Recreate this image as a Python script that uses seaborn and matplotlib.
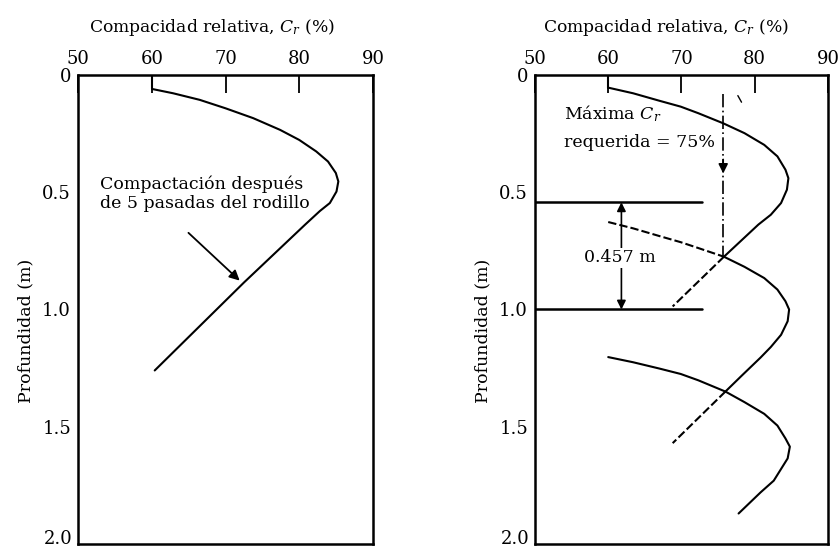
import numpy as np
import matplotlib
matplotlib.use("Agg")
import matplotlib.pyplot as plt
import pandas as pd
import seaborn as sns

## Relative compaction (Cr, %) against depth (m).

## Left panel: compaction after 5 roller passes
left_cr = [60.1, 62.9, 66.5, 70.0, 73.75, 77.4, 80.0, 82.3, 83.9, 84.96, 85.3,
           85.05, 84.15, 82.8, 80.8, 72.5, 60.4]
left_depth = [0.06, 0.078, 0.106, 0.142, 0.184, 0.234, 0.277, 0.326, 0.369, 0.418, 0.454,
              0.497, 0.546, 0.58, 0.638, 0.885, 1.26]

## Right panel: three successive lifts, solid and dashed parts
lift1_cr = [60.0, 63.4, 67.0, 69.9, 72.3, 75.7, 78.6, 81.3, 83.1, 84.2, 84.6,
            84.4, 83.6, 82.2, 80.5, 75.8]
lift1_depth = [0.054, 0.078, 0.11, 0.135, 0.163, 0.206, 0.248, 0.298, 0.347, 0.404, 0.44,
               0.489, 0.546, 0.596, 0.638, 0.775]
lift1_dash_cr = [75.8, 68.8]
lift1_dash_depth = [0.775, 0.987]

lift2_dash_cr = [60.0, 63.4, 67.0, 69.9, 72.3, 75.8]
lift2_dash_depth = [0.627, 0.654, 0.687, 0.713, 0.738, 0.775]
lift2_cr = [75.8, 78.6, 81.3, 83.1, 84.2, 84.7, 84.5, 83.6, 82.2, 80.8, 78.3, 76.0]
lift2_depth = [0.775, 0.818, 0.866, 0.915, 0.965, 1.0, 1.05, 1.108, 1.16, 1.205, 1.28, 1.35]
lift2_end_cr = [76.0, 68.8]
lift2_end_depth = [1.35, 1.57]

lift3_cr = [60.0, 63.4, 67.0, 69.9, 72.3, 76.0, 78.6, 81.3, 83.1, 84.2, 84.8,
            84.5, 83.6, 82.6, 80.8, 77.8]
lift3_depth = [1.203, 1.225, 1.252, 1.275, 1.302, 1.35, 1.395, 1.445, 1.495, 1.55, 1.585,
               1.635, 1.68, 1.73, 1.78, 1.87]

## Annotations
required_cr = 75.7
lift_top = 0.543
lift_bottom = 1.0
lift_thick = "0.457 m"

x_ticks = [50, 60, 70, 80, 90]
y_ticks = [0, 0.5, 1.0, 1.5, 2.0]
y_tick_labels = ["0", "0.5", "1.0", "1.5", ""]

sns.set_style("white")
plt.rcParams['font.family'] = ['DejaVu Serif']
plt.rcParams['mathtext.fontset'] = 'dejavuserif'
# plain black text like the printed figure
for k in ['text.color', 'axes.labelcolor', 'xtick.color', 'ytick.color']:
    plt.rcParams[k] = 'black'

fig = plt.figure(figsize=(8.38, 5.53), dpi=100)
ax1 = fig.add_axes([0.0931, 0.0163, 0.352, 0.8481])
ax2 = fig.add_axes([0.6384, 0.0163, 0.3496, 0.8481])

lw = 1.5
txt = 12.5


def line(ax, xs, ys, style='-'):
    df = pd.DataFrame({"cr": xs, "depth": ys})
    sns.lineplot(data=df, x="cr", y="depth", sort=False, estimator=None,
                 ax=ax, color='black', linewidth=lw, linestyle=style)


def setup(ax, xlab_x):
    ax.set_xlim(50, 90)
    ax.set_ylim(2.0, 0)
    ax.xaxis.tick_top()
    ax.xaxis.set_label_position('top')
    ax.set_xticks(x_ticks)
    ax.set_yticks(y_ticks)
    ax.set_yticklabels(y_tick_labels)
    ax.tick_params(axis='both', direction='in', length=13, width=1.3,
                   labelsize=13, pad=5, color='black', labelcolor='black')
    ax.set_xlabel("Compacidad relativa, $C_r$ (%)", fontsize=12.3, va='center')
    ax.xaxis.set_label_coords(xlab_x, 1.102)
    ax.set_ylabel("Profundidad (m)", fontsize=txt)
    ax.yaxis.set_label_coords(-0.148, 0.454)
    # bottom label sits on the edge, keep it inside the picture
    ax.annotate("2.0", xy=(0, 0), xycoords='axes fraction', xytext=(-3.8, -3),
                textcoords='offset points', ha='right', va='bottom', fontsize=13)
    for s in ax.spines.values():
        s.set_linewidth(1.8)
        s.set_color('black')


## Left panel
line(ax1, left_cr, left_depth)
ax1.plot([60, 60], [0, 0.06], color='black', linewidth=lw)
setup(ax1, 0.453)
ax1.text(53.0, 0.505, "Compactación después\nde 5 pasadas del rodillo",
         fontsize=txt, va='center', ha='left', linespacing=1.15)
ax1.annotate("", xy=(72.2, 0.885), xytext=(64.7, 0.665),
             arrowprops=dict(arrowstyle='-|>', color='black', lw=1.3,
                             mutation_scale=15))

## Right panel
line(ax2, lift1_cr, lift1_depth)
line(ax2, lift1_dash_cr, lift1_dash_depth, (0, (4, 1.5)))
line(ax2, lift2_dash_cr, lift2_dash_depth, (0, (4, 1.5)))
line(ax2, lift2_cr, lift2_depth)
line(ax2, lift2_end_cr, lift2_end_depth, (0, (4, 1.5)))
line(ax2, lift3_cr, lift3_depth)
ax2.plot([60, 60], [0, 0.054], color='black', linewidth=lw)
ax2.plot([77.7, 78.2], [0.088, 0.116], color='black', linewidth=1)
setup(ax2, 0.447)

## lift limits
ax2.plot([50, 72.8], [lift_top, lift_top], color='black', linewidth=1.8)
ax2.plot([50, 72.8], [lift_bottom, lift_bottom], color='black', linewidth=1.8)
ax2.annotate("", xy=(61.8, lift_top), xytext=(61.8, lift_bottom),
             arrowprops=dict(arrowstyle='<|-|>', color='black', lw=1.2,
                             mutation_scale=13, shrinkA=0, shrinkB=0))
ax2.text(61.6, 0.78, lift_thick, fontsize=txt, ha='center', va='center',
         bbox=dict(facecolor='white', edgecolor='none', pad=1))

## required compaction line
ax2.plot([required_cr, required_cr], [0.08, 0.775], color='black', linewidth=1.2,
         linestyle=(0, (8, 2, 1, 2)))
ax2.annotate("", xy=(required_cr, 0.42), xytext=(required_cr, 0.36),
             arrowprops=dict(arrowstyle='-|>', color='black', lw=1.2,
                             mutation_scale=14, shrinkA=0, shrinkB=0))
ax2.text(53.9, 0.165, "Máxima $C_r$", fontsize=txt, va='center', ha='left')
ax2.text(53.9, 0.29, "requerida = 75%", fontsize=txt, va='center', ha='left')

fig.savefig("out.png", dpi=100)
